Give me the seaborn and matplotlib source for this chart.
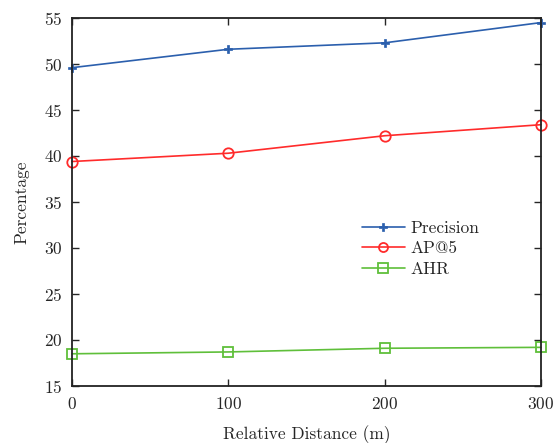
import matplotlib
matplotlib.use("Agg")
import matplotlib.pyplot as plt
import seaborn as sns
import pandas as pd

distance = [0, 100, 200, 300]
precision = [49.6, 51.6, 52.3, 54.5]
ap5 = [39.4, 40.3, 42.2, 43.4]
ahr = [18.5, 18.7, 19.1, 19.2]
series_names = ["Precision", "AP@5", "AHR"]

sns.set_style("ticks")
plt.rcParams['font.family'] = ['cmr10', 'DejaVu Serif']
plt.rcParams['axes.formatter.use_mathtext'] = True

df = pd.DataFrame({
    "Relative Distance (m)": distance * 3,
    "Percentage": precision + ap5 + ahr,
    "Series": [series_names[0]] * 4 + [series_names[1]] * 4 + [series_names[2]] * 4,
})

fig = plt.figure(figsize=(5.6, 4.43), dpi=100)
ax = fig.add_axes([0.1286, 0.1287, 0.8374, 0.8307])

palette = {"Precision": "#2b5fad", "AP@5": "#ff2b2b", "AHR": "#5fbf3a"}
markers = {"Precision": "P", "AP@5": "o", "AHR": "s"}
sns.lineplot(data=df, x="Relative Distance (m)", y="Percentage", hue="Series",
             style="Series", markers=markers, dashes=False, palette=palette,
             ax=ax, linewidth=1.2, markersize=8)


def style_line(line, big=7.5):
    c = line.get_color()
    line.set_markeredgecolor(c)
    line.set_markeredgewidth(1.3)
    if line.get_marker() == "P":
        line.set_markerfacecolor(c)
        line.set_markersize(6)
        line.set_markeredgewidth(0.5)
    else:
        line.set_markerfacecolor("none")
        line.set_markersize(big)


for line in ax.get_lines():
    style_line(line)
    line.set_clip_on(False)

ax.set_xlim(0, 300)
ax.set_ylim(15, 55)
ax.set_xticks([0, 100, 200, 300])
ax.set_yticks(range(15, 56, 5))
ax.tick_params(direction="in", top=True, right=True, labelsize=12.5, length=5,
               width=1, pad=7)
for s in ax.spines.values():
    s.set_linewidth(1.3)
    s.set_color("#222222")
ax.set_xlabel("Relative Distance (m)", fontsize=12.5, labelpad=10)
ax.set_ylabel("Percentage", fontsize=12.5, labelpad=10)

h, l = ax.get_legend_handles_labels()
for hh in h:
    style_line(hh, big=6.5)
ax.legend(h, l, frameon=False, fontsize=12.5, loc="upper left",
          bbox_to_anchor=(0.5915, 0.483), handlelength=2.5, borderpad=0.2,
          labelspacing=0.3, handletextpad=0.3)

fig.savefig("out.png", dpi=100)
